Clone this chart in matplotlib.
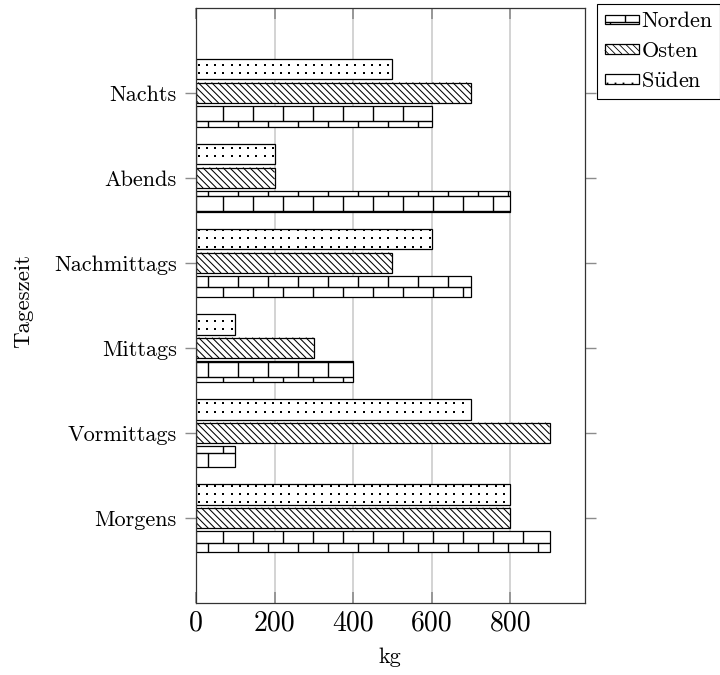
import numpy as np
import matplotlib
matplotlib.use('Agg')
import matplotlib.pyplot as plt
from matplotlib.collections import LineCollection
from matplotlib.patches import Rectangle, Patch
from matplotlib.lines import Line2D
from matplotlib.legend_handler import HandlerBase

plt.rcParams['font.family'] = ['cmr10', 'DejaVu Serif']
plt.rcParams['mathtext.fontset'] = 'cm'
plt.rcParams['axes.formatter.use_mathtext'] = True

# data
categories = ['Morgens', 'Vormittags', 'Mittags', 'Nachmittags', 'Abends', 'Nachts']
labels = ['Norden', 'Osten', r'S$\ddot{\mathrm{u}}$den']
norden = [900, 100, 400, 700, 800, 600]
osten = [800, 900, 300, 500, 200, 700]
sueden = [800, 700, 100, 600, 200, 500]
xticks = [0, 200, 400, 600, 800]


# pattern helpers, all in pixel-like units
def brick_segs(x0, y0, x1, y1, ox, oy, bw, rh):
    segs = []
    k0 = int(np.floor((y0 - oy) / rh)) - 1
    k1 = int(np.ceil((y1 - oy) / rh)) + 1
    for k in range(k0, k1):
        yl = oy + k * rh
        if y0 < yl < y1:
            segs.append([(x0, yl), (x1, yl)])
        ya, yb = max(yl, y0), min(yl + rh, y1)
        if yb <= ya:
            continue
        shift = ox - (k % 2) * bw / 2
        for xv in np.arange(shift + np.floor((x0 - shift) / bw) * bw, x1, bw):
            if x0 < xv < x1:
                segs.append([(xv, ya), (xv, yb)])
    return segs


def diag_segs(x0, y0, x1, y1, sp, c0=0.0):
    segs = []
    start = c0 + np.floor((x0 + y0 - c0) / sp) * sp
    for c in np.arange(start, x1 + y1 + sp, sp):
        xs = max(x0, c - y1)
        xe = min(x1, c - y0)
        if xe > xs:
            segs.append([(xs, c - xs), (xe, c - xe)])
    return segs


def dot_pts(x0, y0, x1, y1, sp, ox, oy, m=1.5):
    xs = np.arange(ox + np.ceil((x0 + m - ox) / sp) * sp, x1 - m, sp)
    ys = np.arange(oy + np.ceil((y0 + m - oy) / sp) * sp, y1 - m, sp)
    X, Y = np.meshgrid(xs, ys)
    return X.ravel(), Y.ravel()


BRICK_W, BRICK_H = 30.0, 15.08
DIAG_SP = 6.7
DOT_SP = 8.25

fig = plt.figure(figsize=(7.2, 6.75), dpi=100)
ax = fig.add_axes([196 / 720, 72 / 675, 389 / 720, 595.3 / 675])
ax.set_xlim(0, 990)
ax.set_ylim(-1, 6)

y = np.arange(len(categories))
h = 0.24
off = 0.277
bars_n = ax.barh(y - off, norden, height=h, color='white', edgecolor='black', lw=0.9, zorder=2)
bars_o = ax.barh(y, osten, height=h, color='white', edgecolor='black', lw=0.9, zorder=2)
bars_s = ax.barh(y + off, sueden, height=h, color='white', edgecolor='black', lw=0.9, zorder=2)

inv = ax.transData.inverted()


def px_box(p):
    (x0, y0), (x1, y1) = ax.transData.transform(
        [(p.get_x(), p.get_y()), (p.get_x() + p.get_width(), p.get_y() + p.get_height())])
    return x0, y0, x1, y1


def to_data(segs):
    return [inv.transform(np.array(s)) for s in segs]


for p in bars_n:
    segs = brick_segs(*px_box(p), 223.0, 132.0, BRICK_W, BRICK_H)
    ax.add_collection(LineCollection(to_data(segs), colors='black', lw=1.0, zorder=2.5))
for p in bars_o:
    segs = diag_segs(*px_box(p), DIAG_SP)
    ax.add_collection(LineCollection(to_data(segs), colors='black', lw=0.75, zorder=2.5))
for p in bars_s:
    xs, ys = dot_pts(*px_box(p), DOT_SP, 198.7, 189.0, m=1.0)
    pts = inv.transform(np.column_stack([xs, ys]))
    ax.scatter(pts[:, 0], pts[:, 1], s=4.0, marker='s', color='black', lw=0, zorder=2.5)


class PatternHandler(HandlerBase):
    def __init__(self, kind):
        super().__init__()
        self.kind = kind

    def create_artists(self, legend, orig_handle, xdescent, ydescent,
                       width, height, fontsize, trans):
        rh = 7.0
        x0 = -xdescent
        y0 = -ydescent + (height - rh) / 2
        x1, y1 = x0 + width, y0 + rh
        rect = Rectangle((x0, y0), width, rh, fc='white', ec='black', lw=0.9, transform=trans)
        arts = [rect]
        f = 0.72
        if self.kind == 'brick':
            segs = brick_segs(x0, y0, x1, y1, x0 + 20 * f, y0 + 2.0, BRICK_W * f, BRICK_H * f)
            arts.append(LineCollection(segs, colors='black', lw=1.0, transform=trans))
        elif self.kind == 'diag':
            segs = diag_segs(x0, y0, x1, y1, DIAG_SP * f)
            arts.append(LineCollection(segs, colors='black', lw=0.6, transform=trans))
        else:
            xs, ys = dot_pts(x0, y0, x1, y1, DOT_SP * f, x0 + 1.5, y0 + 1.0, m=1.0)
            arts.append(Line2D(xs, ys, ls='none', marker='s', ms=1.3, mew=0,
                               color='black', transform=trans))
        return arts


handles = [Patch(), Patch(), Patch()]
kinds = ['brick', 'diag', 'dots']
leg = fig.legend(handles, labels,
                 handler_map={hd: PatternHandler(k) for hd, k in zip(handles, kinds)},
                 loc='upper left', bbox_to_anchor=(597 / 720, 1 - 4 / 675),
                 fontsize=16, frameon=True, fancybox=False, edgecolor='black',
                 framealpha=1, borderaxespad=0, borderpad=0.35,
                 handlelength=1.55, handletextpad=0.1, labelspacing=0.45)
leg.get_frame().set_linewidth(0.8)

ax.set_yticks(y, categories, fontsize=16)
ax.set_xticks(xticks, [str(v) for v in xticks], fontsize=20)
ax.tick_params(axis='y', direction='out', length=8, width=1, color='#8c8c8c',
               left=True, right=True, pad=6)
ax.tick_params(axis='x', direction='in', length=8, width=1.2, color='#8c8c8c',
               top=True, bottom=True, pad=5)
ax.grid(axis='x', color='#c8c8c8', lw=1.1)
ax.set_axisbelow(True)
for s in ax.spines.values():
    s.set_color('#333333')
    s.set_linewidth(0.9)

fig.text(390 / 720, 1 - 657 / 675, 'kg', ha='center', va='center', fontsize=16)
fig.text(23 / 720, 1 - 301 / 675, 'Tageszeit', ha='center', va='center',
         rotation=90, fontsize=16.5)

fig.savefig('out.png', dpi=100)
